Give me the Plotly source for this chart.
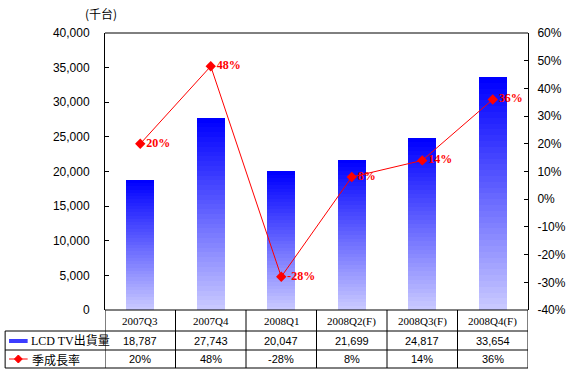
import plotly.graph_objects as go

categories = ["2007Q3", "2007Q4", "2008Q1", "2008Q2(F)", "2008Q3(F)", "2008Q4(F)"]
shipments = [18787, 27743, 20047, 21699, 24817, 33654]
growth = [20, 48, -28, 8, 14, 36]
shipment_labels = ["18,787", "27,743", "20,047", "21,699", "24,817", "33,654"]
growth_labels = ["20%", "48%", "-28%", "8%", "14%", "36%"]
series_names = ["LCD TV出貨量", "季成長率"]
unit_label = "(千台)"
left_ticks = list(range(0, 40001, 5000))
right_ticks = list(range(-40, 61, 10))
right_tick_text = [f"{v}%" for v in right_ticks]

W, H = 578, 372
L, R, T, B = 105, 537, 33, 310
PW, PH = R - L, B - T


def px_x(p):
    return (p - L) / PW


def px_y(p):
    return (B - p) / PH


fig = go.Figure()

# gradient bars via stacked segments
N = 40
x_idx = list(range(len(categories)))
for i in range(N):
    f = i / (N - 1)  # 0 bottom -> 1 top
    r = int(round(200 * (1 - f)))
    g = int(round(200 * (1 - f)))
    col = f"rgb({r},{g},255)"
    fig.add_trace(go.Bar(
        x=x_idx, y=[v / N for v in shipments], marker=dict(color=col, line=dict(width=0)),
        width=0.4, showlegend=False, hoverinfo="skip", yaxis="y"))

fig.add_trace(go.Scatter(
    x=x_idx, y=growth, yaxis="y2", mode="lines+markers+text",
    line=dict(color="#FF0000", width=1),
    marker=dict(symbol="diamond", size=8, color="#FF0000"),
    text=growth_labels, textposition="middle right",
    textfont=dict(family="Liberation Serif", size=12, color="#FF0000", weight="bold"),
    showlegend=False, hoverinfo="skip"))

shapes = []
line = dict(color="black", width=1)
# top border
shapes.append(dict(type="line", xref="paper", yref="paper", x0=0, x1=1, y0=1, y1=1, line=line))
# table horizontal lines
shapes.append(dict(type="line", xref="paper", yref="paper", x0=0, x1=1, y0=0, y1=0, line=line))
for p in (331, 350, 368):
    shapes.append(dict(type="line", xref="paper", yref="paper", x0=px_x(3), x1=1, y0=px_y(p), y1=px_y(p), line=line))
# vertical lines
shapes.append(dict(type="line", xref="paper", yref="paper", x0=px_x(3), x1=px_x(3), y0=px_y(331), y1=px_y(368), line=line))
for k in range(len(categories) + 1):
    xb = k - 0.5
    shapes.append(dict(type="line", xref="x", yref="paper", x0=xb, x1=xb, y0=0, y1=px_y(368), line=line))
# legend swatches
shapes.append(dict(type="rect", xref="paper", yref="paper", x0=px_x(7), x1=px_x(26), y0=px_y(339), y1=px_y(343),
                   fillcolor="#3C3CFF", line=dict(width=0)))
shapes.append(dict(type="line", xref="paper", yref="paper", x0=px_x(7), x1=px_x(26), y0=px_y(359), y1=px_y(359),
                   line=dict(color="#FF0000", width=1)))
cx, cy = 16.5, 359
shapes.append(dict(type="path", xref="paper", yref="paper",
                   path=f"M {px_x(cx)},{px_y(cy-4)} L {px_x(cx+4)},{px_y(cy)} L {px_x(cx)},{px_y(cy+4)} L {px_x(cx-4)},{px_y(cy)} Z",
                   fillcolor="#FF0000", line=dict(color="#FF0000", width=1)))

annotations = []
for i, c in enumerate(categories):
    annotations.append(dict(x=i, xref="x", y=px_y(321), yref="paper", yanchor="middle", text=c, showarrow=False,
                            font=dict(family="Liberation Serif", size=11, color="black")))
    annotations.append(dict(x=i, xref="x", y=px_y(341), yref="paper", yanchor="middle", text=shipment_labels[i],
                            showarrow=False, font=dict(family="Liberation Sans", size=11, color="black")))
    annotations.append(dict(x=i, xref="x", y=px_y(359), yref="paper", yanchor="middle", text=growth_labels[i],
                            showarrow=False, font=dict(family="Liberation Sans", size=11, color="black")))
annotations.append(dict(x=px_x(27), xref="paper", y=px_y(341), yref="paper", yanchor="middle", text=series_names[0],
                        showarrow=False, xanchor="left",
                        font=dict(family="Liberation Serif, Noto Sans CJK TC", size=12, color="black")))
annotations.append(dict(x=px_x(28), xref="paper", y=px_y(359), yref="paper", yanchor="middle", text=series_names[1],
                        showarrow=False, xanchor="left",
                        font=dict(family="Noto Sans CJK TC", size=12, color="black")))
annotations.append(dict(x=px_x(83), xref="paper", y=px_y(13), yref="paper", yanchor="middle", text=unit_label,
                        showarrow=False, font=dict(family="Noto Sans CJK TC", size=12, color="black")))

fig.update_layout(
    width=W, height=H,
    margin=dict(l=L, r=W - R, t=T, b=H - B, pad=0),
    paper_bgcolor="white", plot_bgcolor="white",
    barmode="stack", bargap=0.6,
    xaxis=dict(range=[-0.5, len(categories) - 0.5], showticklabels=False, showgrid=False,
               zeroline=False, showline=False, ticks=""),
    yaxis=dict(range=[0, 40000], tickvals=left_ticks, tickformat=",",
               showgrid=False, zeroline=False, showline=True, linecolor="black", linewidth=1,
               ticks="inside", ticklen=4, tickcolor="black", ticklabelstandoff=12,
               tickfont=dict(family="Liberation Sans", size=12, color="black")),
    yaxis2=dict(range=[-40, 60], tickvals=right_ticks, ticktext=right_tick_text,
                overlaying="y", side="right", showgrid=False, zeroline=False,
                showline=True, linecolor="black", linewidth=1,
                ticks="inside", ticklen=4, tickcolor="black", ticklabelstandoff=6,
                tickfont=dict(family="Liberation Sans", size=12, color="black")),
    shapes=shapes, annotations=annotations,
)

fig.write_html("out.html", config={"displayModeBar": False},
               post_script="document.body.style.margin='0px';document.body.style.padding='0px';")
